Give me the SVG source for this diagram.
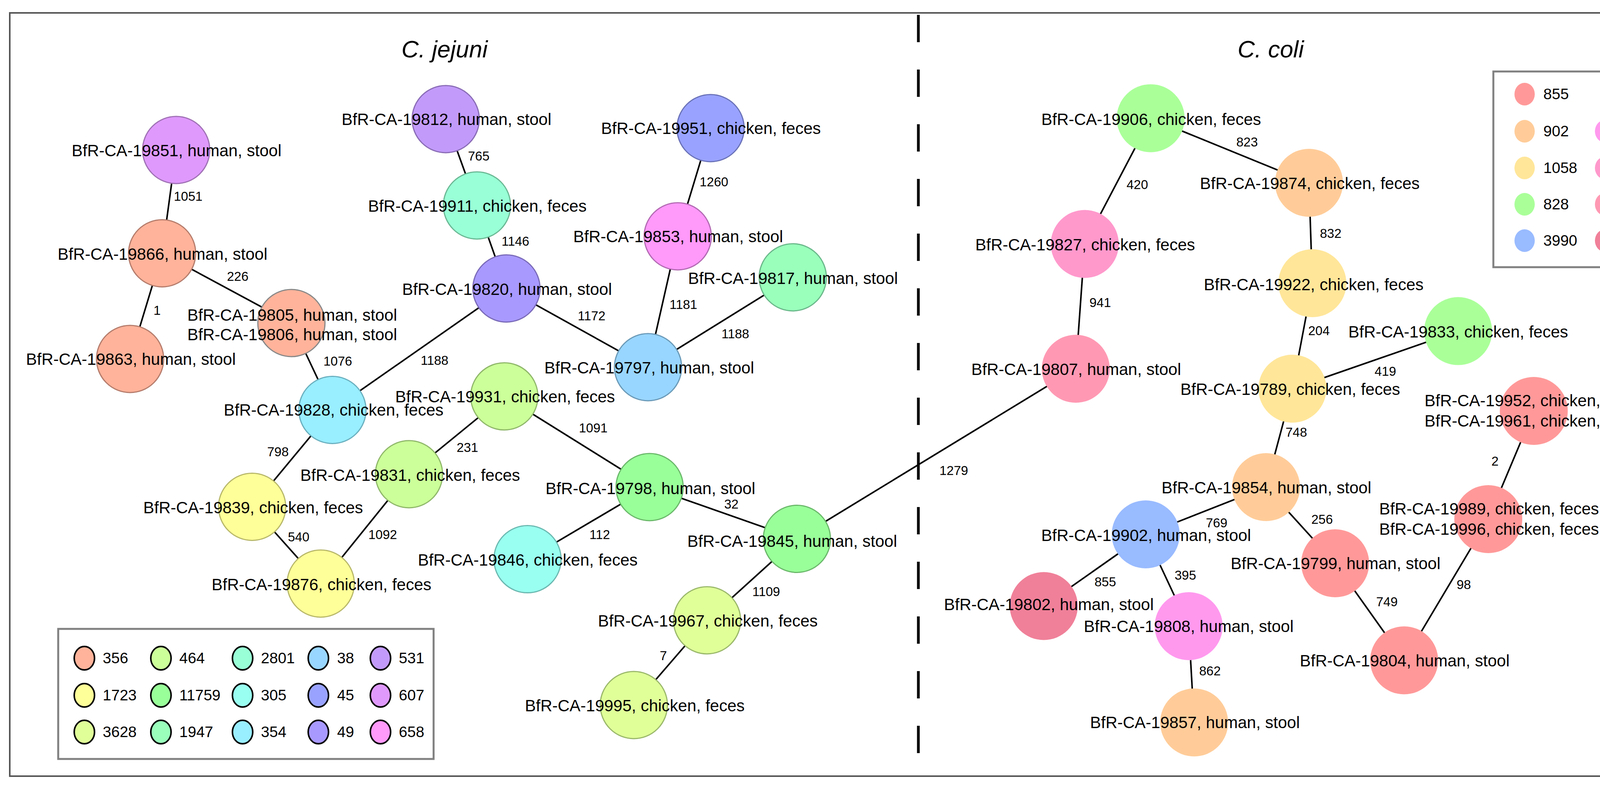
<svg xmlns="http://www.w3.org/2000/svg" width="4393" height="2025" viewBox="0 0 4393 2025">
<style>
text{font-family:"Liberation Sans",Arial,sans-serif;fill:#000}
.lbl{font-size:42px;text-anchor:middle}
.el{font-size:33px}
.lg{font-size:39px}
.title{font-size:61px;font-style:italic;text-anchor:middle}
.edges line{stroke:#000;stroke-width:4}
.nj{stroke-width:3}
.lgl ellipse{stroke:#000;stroke-width:4}
</style>
<rect x="0" y="0" width="4393" height="2025" fill="#fff"/>
<rect x="25" y="33" width="4329" height="1954" fill="none" stroke="#555" stroke-width="4"/>
<line x1="2351" y1="33" x2="2351" y2="1987" stroke="#000" stroke-width="7" stroke-dasharray="70 70" stroke-dashoffset="-5"/>
<text class="title" x="1138" y="147">C. jejuni</text>
<text class="title" x="3253" y="147">C. coli</text>

<g class="edges" id="connectors">
<line x1="451" y1="384" x2="415" y2="648.5"/>
<line x1="415" y1="648.5" x2="333" y2="919"/>
<line x1="415" y1="648.5" x2="746" y2="827"/>
<line x1="746" y1="827" x2="851" y2="1049.5"/>
<line x1="851" y1="1049.5" x2="1296.5" y2="738.5"/>
<line x1="1141" y1="305" x2="1221" y2="526"/>
<line x1="1221" y1="526" x2="1296.5" y2="738.5"/>
<line x1="1296.5" y1="738.5" x2="1659" y2="940"/>
<line x1="1819" y1="328" x2="1735" y2="605"/>
<line x1="1735" y1="605" x2="1659" y2="940"/>
<line x1="1659" y1="940" x2="2029.5" y2="710"/>
<line x1="851" y1="1049.5" x2="645.4" y2="1297.5"/>
<line x1="645.4" y1="1297.5" x2="821" y2="1494"/>
<line x1="821" y1="1494" x2="1047" y2="1214"/>
<line x1="1047" y1="1214" x2="1291" y2="1014.7"/>
<line x1="1291" y1="1014.7" x2="1663" y2="1247"/>
<line x1="1663" y1="1247" x2="2040" y2="1379.5"/>
<line x1="1663" y1="1247" x2="1350.4" y2="1431.6"/>
<line x1="2040" y1="1379.5" x2="1810" y2="1588"/>
<line x1="1810" y1="1588" x2="1622.6" y2="1805"/>
<line x1="2040" y1="1379.5" x2="2754" y2="944"/>
<line x1="2945.7" y1="302.7" x2="2777" y2="624.5"/>
<line x1="2945.7" y1="302.7" x2="3351" y2="468"/>
<line x1="2777" y1="624.5" x2="2754" y2="944"/>
<line x1="3351" y1="468" x2="3359.6" y2="725"/>
<line x1="3359.6" y1="725" x2="3308.5" y2="995"/>
<line x1="3308.5" y1="995" x2="3732.8" y2="847.6"/>
<line x1="3308.5" y1="995" x2="3241" y2="1247"/>
<line x1="3241" y1="1247" x2="2933" y2="1368"/>
<line x1="3241" y1="1247" x2="3418" y2="1442"/>
<line x1="2933" y1="1368" x2="2672" y2="1551.5"/>
<line x1="2933" y1="1368" x2="3043" y2="1603"/>
<line x1="3043" y1="1603" x2="3057" y2="1849.5"/>
<line x1="3418" y1="1442" x2="3594.6" y2="1690.5"/>
<line x1="3926.5" y1="1052" x2="3810" y2="1329"/>
<line x1="3810" y1="1329" x2="3594.6" y2="1690.5"/>
<text class="el" x="445" y="514">1051</text>
<text class="el" x="393" y="806">1</text>
<text class="el" x="581" y="719">226</text>
<text class="el" x="828" y="936">1076</text>
<text class="el" x="1077" y="934">1188</text>
<text class="el" x="1198" y="411">765</text>
<text class="el" x="1284" y="629">1146</text>
<text class="el" x="1479" y="820">1172</text>
<text class="el" x="1791" y="477">1260</text>
<text class="el" x="1714" y="791">1181</text>
<text class="el" x="1847" y="866">1188</text>
<text class="el" x="684" y="1168">798</text>
<text class="el" x="737" y="1386">540</text>
<text class="el" x="943" y="1380">1092</text>
<text class="el" x="1169" y="1157">231</text>
<text class="el" x="1482" y="1107">1091</text>
<text class="el" x="1854" y="1302">32</text>
<text class="el" x="1509" y="1380">112</text>
<text class="el" x="1926" y="1526">1109</text>
<text class="el" x="1689" y="1690">7</text>
<text class="el" x="2405" y="1216">1279</text>
<text class="el" x="2884" y="484">420</text>
<text class="el" x="3165" y="375">823</text>
<text class="el" x="2789" y="786">941</text>
<text class="el" x="3379" y="609">832</text>
<text class="el" x="3349" y="858">204</text>
<text class="el" x="3519" y="962">419</text>
<text class="el" x="3291" y="1118">748</text>
<text class="el" x="3087" y="1350">769</text>
<text class="el" x="3357" y="1341">256</text>
<text class="el" x="2802" y="1501">855</text>
<text class="el" x="3007" y="1484">395</text>
<text class="el" x="3070" y="1729">862</text>
<text class="el" x="3523" y="1552">749</text>
<text class="el" x="3818" y="1192">2</text>
<text class="el" x="3729" y="1508">98</text>
</g>

<g id="n19851"><circle class="nj" cx="451" cy="384" r="86" fill="#df99fc" stroke="#a071b5"/><text class="lbl" x="452" y="400">BfR-CA-19851, human, stool</text></g>
<g id="n19866"><circle class="nj" cx="415" cy="648.5" r="86" fill="#ffb39a" stroke="#b57c6c"/><text class="lbl" x="416" y="665">BfR-CA-19866, human, stool</text></g>
<g id="n19863"><circle class="nj" cx="333" cy="919" r="86" fill="#ffb39a" stroke="#b57c6c"/><text class="lbl" x="335" y="934">BfR-CA-19863, human, stool</text></g>
<g id="n19805"><circle class="nj" cx="746" cy="827" r="86" fill="#ffb39a" stroke="#888"/><text class="lbl" x="748" y="821">BfR-CA-19805, human, stool</text><text class="lbl" x="748" y="871">BfR-CA-19806, human, stool</text></g>
<g id="n19812"><circle class="nj" cx="1141" cy="305" r="86" fill="#c29bfa" stroke="#8a6cb6"/><text class="lbl" x="1143" y="320">BfR-CA-19812, human, stool</text></g>
<g id="n19911"><circle class="nj" cx="1221" cy="526" r="86" fill="#99ffd6" stroke="#6ab894"/><text class="lbl" x="1222" y="542">BfR-CA-19911, chicken, feces</text></g>
<g id="n19951"><circle class="nj" cx="1819" cy="328" r="86" fill="#99a3ff" stroke="#6a72b8"/><text class="lbl" x="1820" y="343">BfR-CA-19951, chicken, feces</text></g>
<g id="n19853"><circle class="nj" cx="1735" cy="605" r="86" fill="#ff99fa" stroke="#b36ab3"/><text class="lbl" x="1736" y="620">BfR-CA-19853, human, stool</text></g>
<g id="n19820"><circle class="nj" cx="1296.5" cy="738.5" r="86" fill="#a899ff" stroke="#7a6ab8"/><text class="lbl" x="1298" y="755">BfR-CA-19820, human, stool</text></g>
<g id="n19817"><circle class="nj" cx="2029.5" cy="710" r="86" fill="#99ffbb" stroke="#6ab88a"/><text class="lbl" x="2030" y="727">BfR-CA-19817, human, stool</text></g>
<g id="n19797"><circle class="nj" cx="1659" cy="940" r="86" fill="#99d6ff" stroke="#6a9ab8"/><text class="lbl" x="1662" y="956">BfR-CA-19797, human, stool</text></g>
<g id="n19828"><circle class="nj" cx="851" cy="1049.5" r="86" fill="#99eeff" stroke="#6ab0bf"/><text class="lbl" x="854" y="1064">BfR-CA-19828, chicken, feces</text></g>
<g id="n19931"><circle class="nj" cx="1291" cy="1014.7" r="86" fill="#ccff99" stroke="#8fb86a"/><text class="lbl" x="1293" y="1030">BfR-CA-19931, chicken, feces</text></g>
<g id="n19831"><circle class="nj" cx="1047" cy="1214" r="86" fill="#ccff99" stroke="#8fb86a"/><text class="lbl" x="1050" y="1231">BfR-CA-19831, chicken, feces</text></g>
<g id="n19839"><circle class="nj" cx="645.4" cy="1297.5" r="86" fill="#ffff99" stroke="#b8b86a"/><text class="lbl" x="648" y="1314">BfR-CA-19839, chicken, feces</text></g>
<g id="n19876"><circle class="nj" cx="821" cy="1494" r="86" fill="#ffff99" stroke="#b8b86a"/><text class="lbl" x="823" y="1511">BfR-CA-19876, chicken, feces</text></g>
<g id="n19798"><circle class="nj" cx="1663" cy="1247" r="86" fill="#99ff99" stroke="#6ab86a"/><text class="lbl" x="1665" y="1265">BfR-CA-19798, human, stool</text></g>
<g id="n19846"><circle class="nj" cx="1350.4" cy="1431.6" r="86" fill="#99fff0" stroke="#6ab8b0"/><text class="lbl" x="1351" y="1448">BfR-CA-19846, chicken, feces</text></g>
<g id="n19845"><circle class="nj" cx="2040" cy="1379.5" r="86" fill="#99ff99" stroke="#6ab86a"/><text class="lbl" x="2028" y="1400">BfR-CA-19845, human, stool</text></g>
<g id="n19967"><circle class="nj" cx="1810" cy="1588" r="86" fill="#e0ff99" stroke="#9ab86a"/><text class="lbl" x="1812" y="1604">BfR-CA-19967, chicken, feces</text></g>
<g id="n19995"><circle class="nj" cx="1622.6" cy="1805" r="86" fill="#e0ff99" stroke="#9ab86a"/><text class="lbl" x="1625" y="1821">BfR-CA-19995, chicken, feces</text></g>

<g id="n19906"><circle cx="2945.7" cy="302.7" r="87" fill="#aaff99"/><text class="lbl" x="2947" y="320">BfR-CA-19906, chicken, feces</text></g>
<g id="n19874"><circle cx="3351" cy="468" r="87" fill="#ffcc99"/><text class="lbl" x="3353" y="484">BfR-CA-19874, chicken, feces</text></g>
<g id="n19827"><circle cx="2777" cy="624.5" r="87" fill="#ff99cc"/><text class="lbl" x="2778" y="641">BfR-CA-19827, chicken, feces</text></g>
<g id="n19922"><circle cx="3359.6" cy="725" r="87" fill="#ffe699"/><text class="lbl" x="3363" y="743">BfR-CA-19922, chicken, feces</text></g>
<g id="n19807"><circle cx="2754" cy="944" r="87" fill="#ff99b3"/><text class="lbl" x="2755" y="960">BfR-CA-19807, human, stool</text></g>
<g id="n19833"><circle cx="3732.8" cy="847.6" r="87" fill="#aaff99"/><text class="lbl" x="3733" y="864">BfR-CA-19833, chicken, feces</text></g>
<g id="n19789"><circle cx="3308.5" cy="995" r="87" fill="#ffe699"/><text class="lbl" x="3303" y="1011">BfR-CA-19789, chicken, feces</text></g>
<g id="n19952"><circle cx="3926.5" cy="1052" r="87" fill="#ff9999"/><text class="lbl" x="3928" y="1040">BfR-CA-19952, chicken, feces</text><text class="lbl" x="3928" y="1092">BfR-CA-19961, chicken, feces</text></g>
<g id="n19854"><circle cx="3241" cy="1247" r="87" fill="#ffcc99"/><text class="lbl" x="3242" y="1263">BfR-CA-19854, human, stool</text></g>
<g id="n19989"><circle cx="3810" cy="1329" r="87" fill="#ff9999"/><text class="lbl" x="3812" y="1317">BfR-CA-19989, chicken, feces</text><text class="lbl" x="3812" y="1369">BfR-CA-19996, chicken, feces</text></g>
<g id="n19902"><circle cx="2933" cy="1368" r="87" fill="#99bbff"/><text class="lbl" x="2934" y="1385">BfR-CA-19902, human, stool</text></g>
<g id="n19799"><circle cx="3418" cy="1442" r="87" fill="#ff9999"/><text class="lbl" x="3419" y="1457">BfR-CA-19799, human, stool</text></g>
<g id="n19802"><circle cx="2672" cy="1551.5" r="87" fill="#f08099"/><text class="lbl" x="2685" y="1562">BfR-CA-19802, human, stool</text></g>
<g id="n19808"><circle cx="3043" cy="1603" r="87" fill="#ff99ee"/><text class="lbl" x="3043" y="1618">BfR-CA-19808, human, stool</text></g>
<g id="n19804"><circle cx="3594.6" cy="1690.5" r="87" fill="#ff9999"/><text class="lbl" x="3596" y="1706">BfR-CA-19804, human, stool</text></g>
<g id="n19857"><circle cx="3057" cy="1849.5" r="87" fill="#ffcc99"/><text class="lbl" x="3059" y="1864">BfR-CA-19857, human, stool</text></g>

<g id="legend-jejuni" class="lgl">
<rect x="149" y="1610" width="961" height="333" fill="none" stroke="#808080" stroke-width="5"/>
<ellipse cx="216" cy="1685" rx="26" ry="30" fill="#ffb39a"/><text class="lg" x="263" y="1698">356</text>
<ellipse cx="412" cy="1685" rx="26" ry="30" fill="#ccff99"/><text class="lg" x="459" y="1698">464</text>
<ellipse cx="621" cy="1685" rx="26" ry="30" fill="#99ffd6"/><text class="lg" x="668" y="1698">2801</text>
<ellipse cx="815" cy="1685" rx="26" ry="30" fill="#99d6ff"/><text class="lg" x="863" y="1698">38</text>
<ellipse cx="974" cy="1685" rx="26" ry="30" fill="#c29bfa"/><text class="lg" x="1021" y="1698">531</text>
<ellipse cx="216" cy="1780" rx="26" ry="30" fill="#ffff99"/><text class="lg" x="263" y="1793">1723</text>
<ellipse cx="412" cy="1780" rx="26" ry="30" fill="#99ff99"/><text class="lg" x="459" y="1793">11759</text>
<ellipse cx="621" cy="1780" rx="26" ry="30" fill="#99fff0"/><text class="lg" x="668" y="1793">305</text>
<ellipse cx="815" cy="1780" rx="26" ry="30" fill="#99a3ff"/><text class="lg" x="863" y="1793">45</text>
<ellipse cx="974" cy="1780" rx="26" ry="30" fill="#df99fc"/><text class="lg" x="1021" y="1793">607</text>
<ellipse cx="216" cy="1874" rx="26" ry="30" fill="#e0ff99"/><text class="lg" x="263" y="1887">3628</text>
<ellipse cx="412" cy="1874" rx="26" ry="30" fill="#99ffbb"/><text class="lg" x="459" y="1887">1947</text>
<ellipse cx="621" cy="1874" rx="26" ry="30" fill="#99eeff"/><text class="lg" x="668" y="1887">354</text>
<ellipse cx="815" cy="1874" rx="26" ry="30" fill="#a899ff"/><text class="lg" x="863" y="1887">49</text>
<ellipse cx="974" cy="1874" rx="26" ry="30" fill="#ff99fa"/><text class="lg" x="1021" y="1887">658</text>
</g>

<g id="legend-coli">
<rect x="3823" y="183" width="492" height="501" fill="none" stroke="#808080" stroke-width="5"/>
<ellipse cx="3903" cy="241" rx="26" ry="29" fill="#ff9999"/><text class="lg" x="3951" y="254">855</text>
<ellipse cx="3903" cy="336" rx="26" ry="29" fill="#ffcc99"/><text class="lg" x="3951" y="349">902</text>
<ellipse cx="4109" cy="336" rx="26" ry="29" fill="#ff99ee"/><text class="lg" x="4158" y="349">8043</text>
<ellipse cx="3903" cy="430" rx="26" ry="29" fill="#ffe699"/><text class="lg" x="3951" y="443">1058</text>
<ellipse cx="4109" cy="430" rx="26" ry="29" fill="#ff99cc"/><text class="lg" x="4158" y="443">825</text>
<ellipse cx="3903" cy="523" rx="26" ry="29" fill="#aaff99"/><text class="lg" x="3951" y="536">828</text>
<ellipse cx="4109" cy="523" rx="26" ry="29" fill="#ff99b3"/><text class="lg" x="4158" y="536">854</text>
<ellipse cx="3903" cy="616" rx="26" ry="29" fill="#99bbff"/><text class="lg" x="3951" y="629">3990</text>
<ellipse cx="4109" cy="616" rx="26" ry="29" fill="#f08099"/><text class="lg" x="4158" y="635">11762</text>
</g>
</svg>
